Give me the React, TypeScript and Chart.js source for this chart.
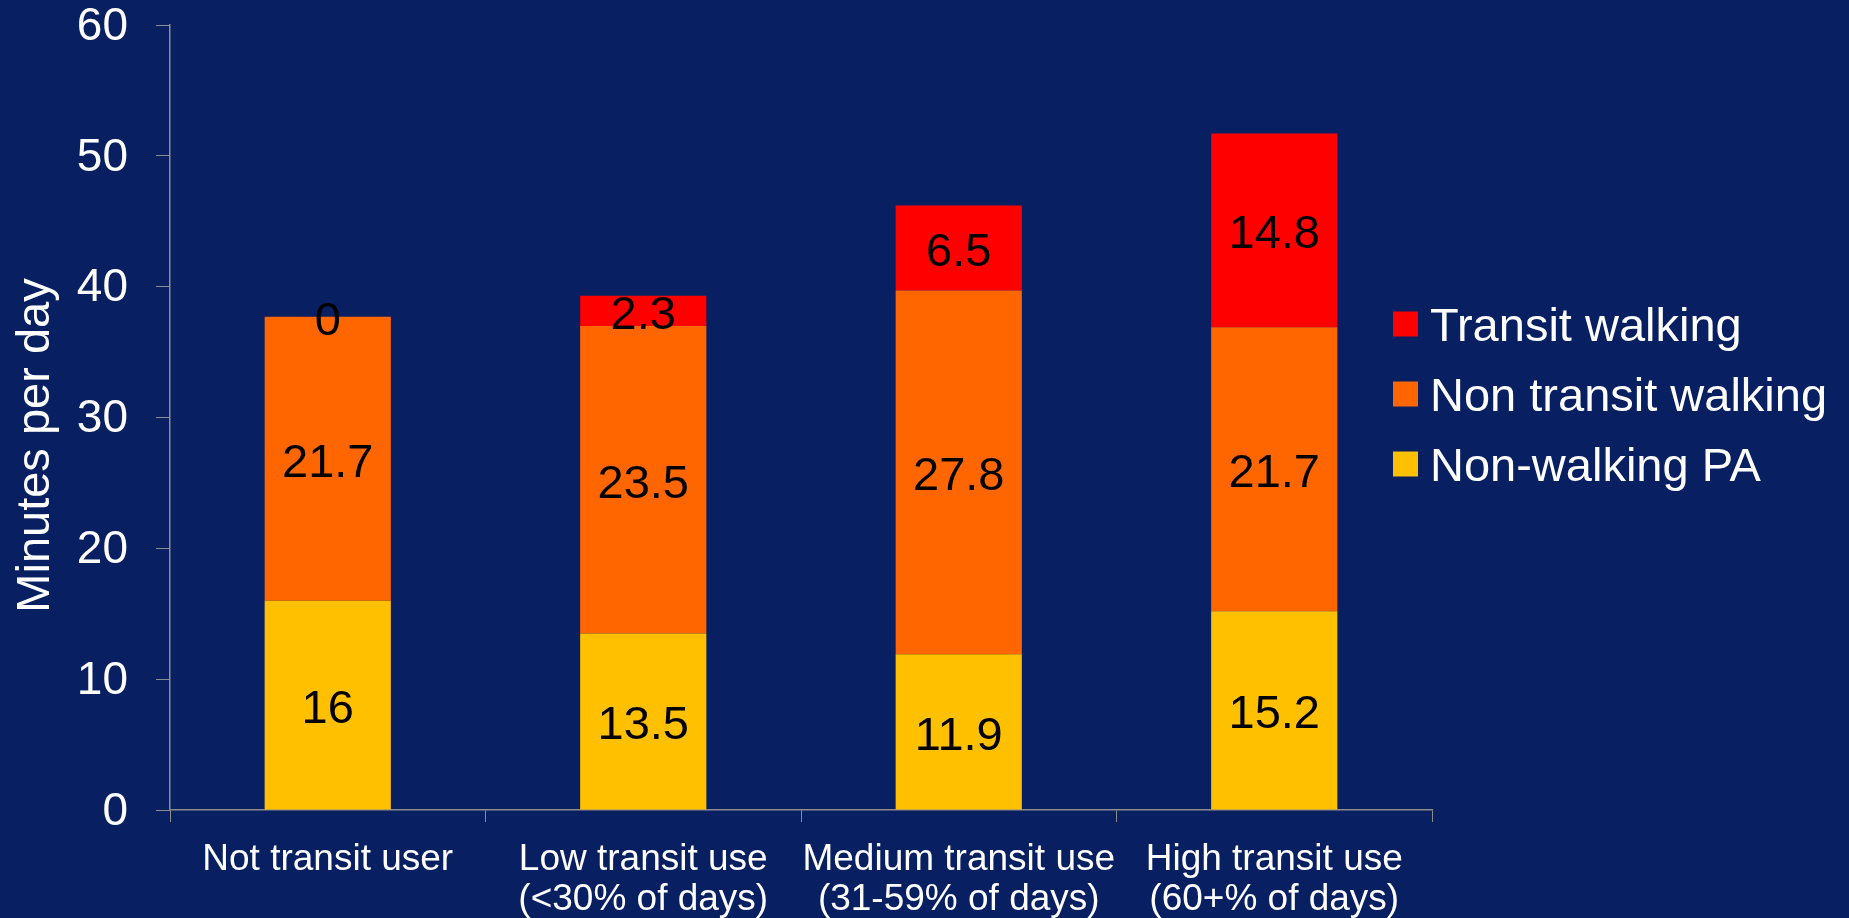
import React, { useEffect, useRef } from "react";
import { Chart, registerables } from "chart.js";

Chart.register(...registerables);

const categories: string[][] = [
  ["Not transit user"],
  ["Low transit use", "(<30% of days)"],
  ["Medium transit use", "(31-59% of days)"],
  ["High transit use", "(60+% of days)"],
];

const nonWalkingPA = [16, 13.5, 11.9, 15.2];
const nonTransitWalking = [21.7, 23.5, 27.8, 21.7];
const transitWalking = [0, 2.3, 6.5, 14.8];

const yTicks = [0, 10, 20, 30, 40, 50, 60];
const yTitle = "Minutes per day";

const BG = "#081f62";
const AXIS = "#8c8c8c";
const FONT = 'Arial, "Liberation Sans", sans-serif';

// Writes each segment's value at the middle of its stacked bar piece
const segmentLabels = {
  id: "segmentLabels",
  afterDatasetsDraw(chart: any) {
    const ctx = chart.ctx;
    ctx.save();
    ctx.fillStyle = "#000";
    ctx.font = `47px ${FONT}`;
    ctx.textAlign = "center";
    ctx.textBaseline = "middle";
    chart.data.datasets.forEach((ds: any, di: number) => {
      const meta = chart.getDatasetMeta(di);
      meta.data.forEach((el: any, i: number) => {
        const v = ds.data[i];
        const cy = (el.y + el.base) / 2;
        ctx.fillText(String(v), el.x, cy + 5);
      });
    });
    ctx.restore();
  },
};

// Rotated axis title and right-hand legend (listed top segment first)
const sideText = {
  id: "sideText",
  afterDraw(chart: any) {
    const ctx = chart.ctx;
    const area = chart.chartArea;
    ctx.save();
    ctx.fillStyle = "#fff";
    ctx.font = `47px ${FONT}`;
    ctx.textAlign = "center";
    ctx.textBaseline = "middle";
    ctx.translate(36, (area.top + area.bottom) / 2 + 28);
    ctx.rotate(-Math.PI / 2);
    ctx.fillText(yTitle, 0, 0);
    ctx.restore();

    ctx.save();
    ctx.font = `47px ${FONT}`;
    ctx.textAlign = "left";
    ctx.textBaseline = "middle";
    const items = [...chart.data.datasets].reverse();
    items.forEach((ds: any, k: number) => {
      const cy = 324 + k * 70;
      ctx.fillStyle = ds.backgroundColor;
      ctx.fillRect(1393, cy - 12.5, 25, 25);
      ctx.fillStyle = "#fff";
      ctx.fillText(ds.label, 1430, cy + 4);
    });
    ctx.restore();
  },
};

const background = {
  id: "background",
  beforeDraw(chart: any) {
    const ctx = chart.ctx;
    ctx.save();
    ctx.fillStyle = BG;
    ctx.fillRect(0, 0, chart.width, chart.height);
    ctx.restore();
  },
};

export default function App() {
  const ref = useRef<HTMLCanvasElement | null>(null);

  useEffect(() => {
    if (!ref.current) return;
    const chart = new Chart(ref.current, {
      type: "bar",
      data: {
        labels: categories,
        datasets: [
          {
            label: "Non-walking PA",
            data: nonWalkingPA,
            backgroundColor: "#ffc000",
          },
          {
            label: "Non transit walking",
            data: nonTransitWalking,
            backgroundColor: "#ff6600",
          },
          {
            label: "Transit walking",
            data: transitWalking,
            backgroundColor: "#ff0000",
          },
        ],
      },
      options: {
        responsive: false,
        animation: false,
        layout: { padding: { left: 0, right: 417, top: 25, bottom: 0 } },
        datasets: {
          bar: { categoryPercentage: 1, barPercentage: 0.4 },
        },
        plugins: {
          legend: { display: false },
          tooltip: { enabled: false },
        },
        scales: {
          x: {
            stacked: true,
            grid: {
              display: true,
              drawOnChartArea: false,
              drawTicks: true,
              tickLength: 12,
              color: AXIS,
              offset: true,
            },
            border: { display: true, color: AXIS, width: 1.5 },
            ticks: {
              color: "#fff",
              padding: 17,
              maxRotation: 0,
              autoSkip: false,
              font: { family: FONT, size: 37, lineHeight: 1.1 },
            },
            afterFit(scale: any) {
              scale.height = 108;
            },
          },
          y: {
            stacked: true,
            min: yTicks[0],
            max: yTicks[yTicks.length - 1],
            afterBuildTicks(scale: any) {
              scale.ticks = yTicks.map((v) => ({ value: v }));
            },
            grid: {
              display: true,
              drawOnChartArea: false,
              drawTicks: true,
              tickLength: 14,
              color: AXIS,
            },
            border: { display: true, color: AXIS, width: 1.5 },
            ticks: {
              color: "#fff",
              padding: 28,
              labelOffset: 2,
              font: { family: FONT, size: 46, lineHeight: 1 },
            },
            title: { display: false },
            afterFit(scale: any) {
              scale.width = 170;
              scale.paddingTop = 0;
              scale.paddingBottom = 0;
            },
          },
        },
      },
      plugins: [background, segmentLabels, sideText],
    });
    return () => chart.destroy();
  }, []);

  return (
    <div
      style={{
        position: "fixed",
        left: 0,
        top: 0,
        width: 1849,
        height: 918,
        background: BG,
      }}
    >
      <canvas ref={ref} width={1849} height={918} />
    </div>
  );
}
